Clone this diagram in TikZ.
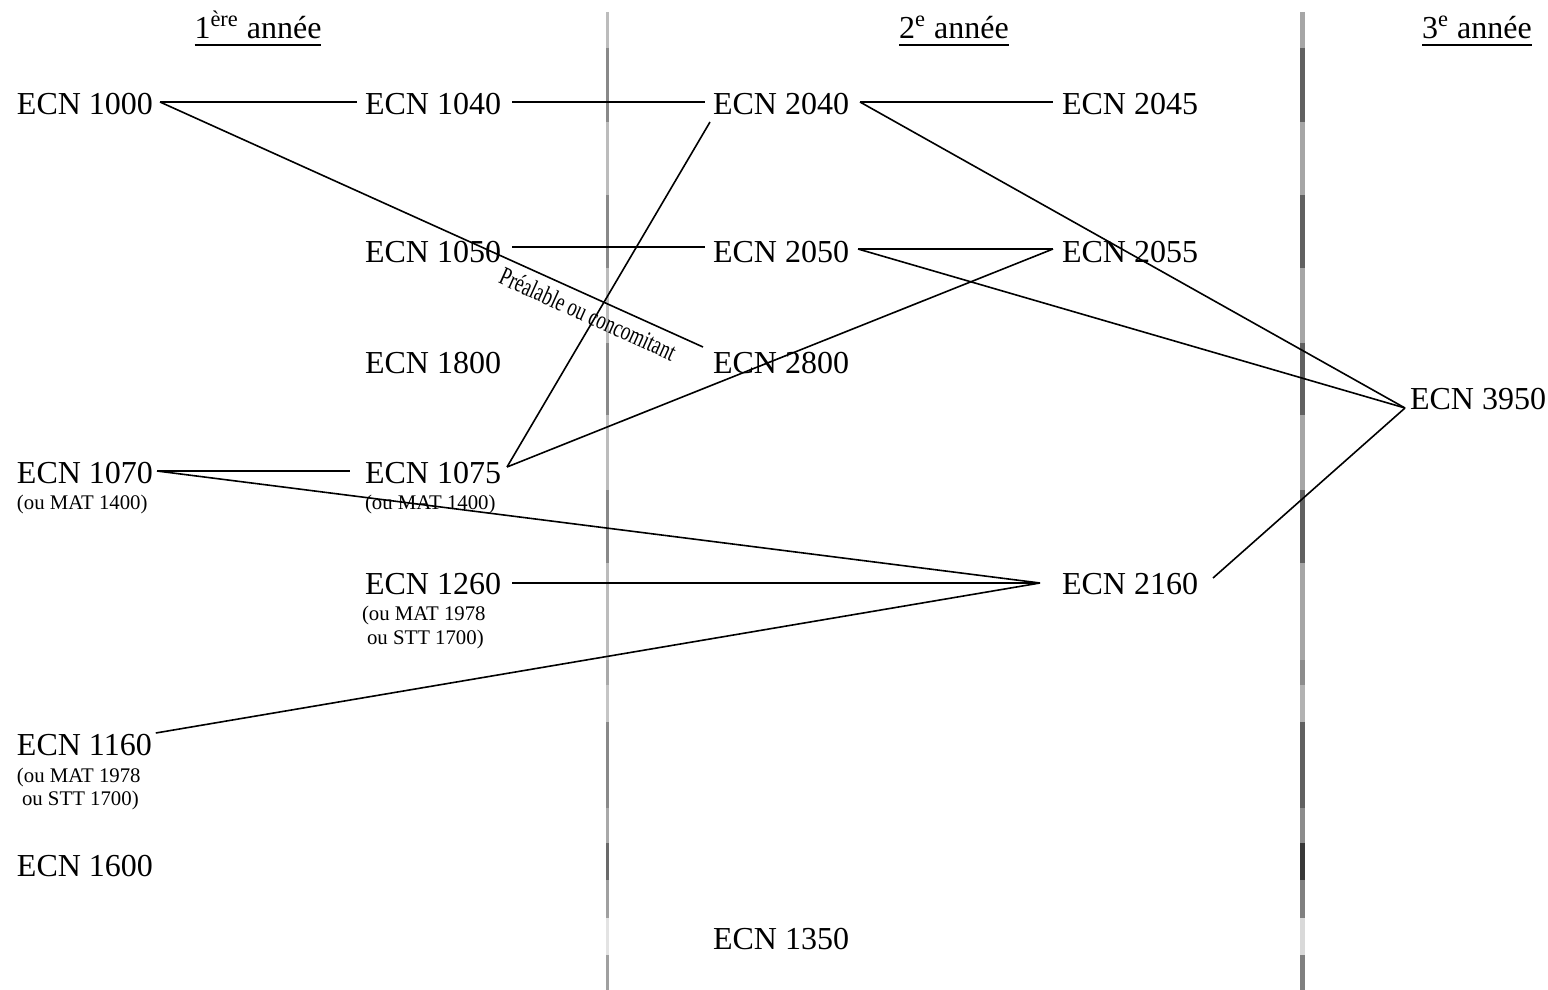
\documentclass[tikz,border=0pt]{standalone}
\usepackage{fontspec}
\setmainfont{Liberation Serif}
\begin{document}
\begin{tikzpicture}[x=0.5pt,y=-0.5pt,
  course/.style={inner sep=0pt,outer sep=0pt,anchor=base west,font=\fontsize{16}{19}\selectfont},
  alt/.style={inner sep=0pt,outer sep=0pt,anchor=base west,font=\fontsize{10.4}{12}\selectfont},
  head/.style={inner sep=0pt,outer sep=0pt,anchor=base,font=\fontsize{16}{19}\selectfont},
  link/.style={line width=0.8pt,black},
  uline/.style={line width=1pt,black}]
\useasboundingbox (0,0) rectangle (1548,990);

% vertical separators
\foreach \a/\b/\c in {12/48/35,48/122/62,122/195/35,195/268/62,268/343/35,343/415/62,415/490/35,490/563/62,563/660/35,660/685/45,685/722/30,722/808/62,808/843/45,843/880/78,880/918/50,918/955/15,955/990/50}{
  \draw[line width=2.5pt,black!\c] (1302,\a) -- (1302,\b);
  \draw[line width=1.5pt,black!\c,draw opacity=0.75] (607,\a) -- (607,\b);
}

% headers
\node[head] (h1) at (258,39) {1\textsuperscript{ère} année};
\node[head] (h2) at (954,39) {2\textsuperscript{e} année};
\node[head] (h3) at (1477,39) {3\textsuperscript{e} année};
\foreach \h in {h1,h2,h3}{
  \draw[uline] ([shift={(0,6)}]\h.base west) -- ([shift={(0,6)}]\h.base east);
}

% courses
\node[course] (n1000) at (17,115) {ECN 1000};
\node[course] (n1040) at (365,115) {ECN 1040};
\node[course] (n2040) at (713,115) {ECN 2040};
\node[course] (n2045) at (1062,115) {ECN 2045};
\node[course] (n1050) at (365,262) {ECN 1050};
\node[course] (n2050) at (713,262) {ECN 2050};
\node[course] (n2055) at (1062,262) {ECN 2055};
\node[course] (n1800) at (365,373) {ECN 1800};
\node[course] (n2800) at (713,373) {ECN 2800};
\node[course] (n3950) at (1410,409) {ECN 3950};
\node[course] (n1070) at (17,483) {ECN 1070};
\node[alt] (a1070) at (17,509) {(ou MAT 1400)};
\node[course] (n1075) at (365,483) {ECN 1075};
\node[alt] (a1075) at (365,509) {(ou MAT 1400)};
\node[course] (n1260) at (365,594) {ECN 1260};
\node[alt] (a1260a) at (362,620) {(ou MAT 1978};
\node[alt] (a1260b) at (367,644) {ou STT 1700)};
\node[course] (n2160) at (1062,594) {ECN 2160};
\node[course] (n1160) at (17,755) {ECN 1160};
\node[alt] (a1160a) at (17,782) {(ou MAT 1978};
\node[alt] (a1160b) at (22,805) {ou STT 1700)};
\node[course] (n1600) at (17,876) {ECN 1600};
\node[course] (n1350) at (713,949) {ECN 1350};

% connectors
\draw[link] ([shift={(7,-13)}]n1000.base east) -- ([shift={(-8,-13)}]n1040.base west);
\draw[link] ([shift={(7,-13)}]n1000.base east) -- ([shift={(-10,-26)}]n2800.base west);
\draw[link] ([shift={(11,-13)}]n1040.base east) -- ([shift={(-8,-13)}]n2040.base west);
\draw[link] ([shift={(11,-13)}]n2040.base east) -- ([shift={(-9,-13)}]n2045.base west);
\draw[link] ([shift={(11,-13)}]n2040.base east) -- ([shift={(-5,-1)}]n3950.base west);
\draw[link] ([shift={(11,-15)}]n1050.base east) -- ([shift={(-8,-15)}]n2050.base west);
\draw[link] ([shift={(9,-13)}]n2050.base east) -- ([shift={(-9,-13)}]n2055.base west);
\draw[link] ([shift={(9,-13)}]n2050.base east) -- ([shift={(-5,-1)}]n3950.base west);
\draw[link] ([shift={(6,-16)}]n1075.base east) -- ([shift={(-3,7)}]n2040.base west);
\draw[link] ([shift={(6,-16)}]n1075.base east) -- ([shift={(-9,-13)}]n2055.base west);
\draw[link] ([shift={(4,-12)}]n1070.base east) -- ([shift={(-15,-12)}]n1075.base west);
\draw[link] ([shift={(4,-12)}]n1070.base east) -- ([shift={(-22,-11)}]n2160.base west);
\draw[link] ([shift={(11,-11)}]n1260.base east) -- ([shift={(-22,-11)}]n2160.base west);
\draw[link] ([shift={(4,-22)}]n1160.base east) -- ([shift={(-22,-11)}]n2160.base west);
\draw[link] ([shift={(15,-16)}]n2160.base east) -- ([shift={(-5,-1)}]n3950.base west);

% label on the prerequisite/corequisite link
\node[inner sep=0pt,rotate=-24.3,font=\fontsize{13}{15}\selectfont] (lbl) at (588,314)
  {\scalebox{0.72}[1]{Préalable ou concomitant}};
\end{tikzpicture}
\end{document}
